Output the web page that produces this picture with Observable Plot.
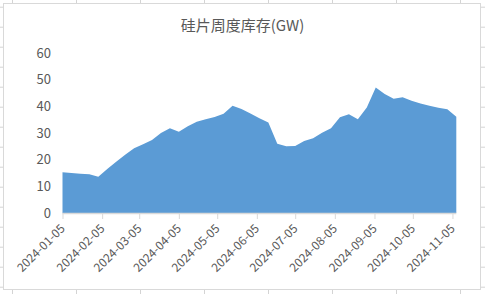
<!DOCTYPE html>
<html>
<head>
<meta charset="utf-8">
<script src="https://cdn.jsdelivr.net/npm/d3@7"></script>
<script src="https://cdn.jsdelivr.net/npm/@observablehq/plot@0.6"></script>
<style>
  html, body { margin: 0; padding: 0; background: #fff; }
  #sheet {
    position: relative; width: 485px; height: 294px; overflow: hidden;
    background-color: #fff;
    background-image:
      linear-gradient(to right, #d4d4d4 1px, transparent 1px),
      linear-gradient(to bottom, #d4d4d4 1px, transparent 1px);
    background-size: 64px 20px;
    background-position: 12px 6.7px;
  }
  #chartbox {
    position: absolute; left: 3px; top: 3px; width: 476px; height: 285px;
    background: #fff; border: 1px solid #d9d9d9;
  }
  #title {
    position: absolute; left: 0; width: 485px; top: 14px; text-align: center;
    font-family: "Noto Sans CJK SC", "Noto Sans", sans-serif; font-size: 15px;
    color: #595959; line-height: 22px;
  }
  #plot { position: absolute; left: 0; top: 0; }
</style>
</head>
<body>
<div id="sheet">
  <div id="chartbox"></div>
  <div id="plot"></div>
  <div id="title">硅片周度库存(GW)</div>
</div>
<script>
// Weekly wafer inventory (GW), weeks starting 2024-01-05
const startDate = "2024-01-05";
const inventory = [
  15.3, 15.0, 14.7, 14.5, 13.6, 16.5, 19.2, 21.8, 24.3, 25.8,
  27.4, 30.0, 31.8, 30.5, 32.5, 34.2, 35.2, 36.0, 37.2, 40.2,
  39.0, 37.3, 35.5, 33.9, 26.0, 25.0, 25.1, 27.0, 28.0, 30.1,
  31.8, 35.9, 37.0, 35.2, 39.6, 47.1, 44.6, 42.8, 43.4, 42.1,
  41.1, 40.2, 39.5, 38.9, 36.1
];
const xTickLabels = [
  "2024-01-05", "2024-02-05", "2024-03-05", "2024-04-05", "2024-05-05", "2024-06-05",
  "2024-07-05", "2024-08-05", "2024-09-05", "2024-10-05", "2024-11-05"
];
const yTicks = [0, 10, 20, 30, 40, 50, 60];

const parse = d3.utcParse("%Y-%m-%d");
const t0 = parse(startDate);
const data = inventory.map((v, i) => ({date: d3.utcDay.offset(t0, 7 * i), value: v}));
const xTicks = xTickLabels.map(parse);

const chart = Plot.plot({
  width: 485,
  height: 294,
  marginLeft: 62.5,
  marginRight: 28.7,
  marginTop: 53,
  marginBottom: 81,
  style: {fontFamily: "'Noto Sans CJK SC', 'Noto Sans', sans-serif", fontSize: "13px", color: "#595959", background: "transparent"},
  x: {type: "utc", domain: [data[0].date, data[data.length - 1].date]},
  y: {domain: [0, 60]},
  marks: [
    Plot.areaY(data, {x: "date", y: "value", fill: "#5B9BD5", curve: "linear"}),
    Plot.ruleY([0], {stroke: "#d9d9d9", strokeWidth: 1.3}),
    Plot.axisY({ticks: yTicks, tickSize: 0, tickPadding: 12, label: null, fill: "#595959"}),
    Plot.axisX({ticks: xTicks, tickFormat: d3.utcFormat("%Y-%m-%d"), tickRotate: -45, tickSize: 6, stroke: "#d9d9d9", tickPadding: 7, fontSize: 12, label: null, fill: "#595959"})
  ]
});
document.getElementById("plot").appendChild(chart);
</script>
</body>
</html>
